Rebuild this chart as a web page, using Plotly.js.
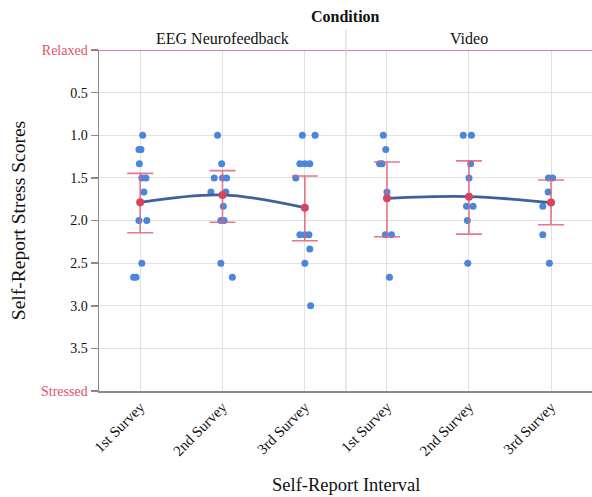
<!DOCTYPE html>
<html>
<head>
<meta charset="utf-8">
<script src="https://cdn.plot.ly/plotly-3.0.1.min.js"></script>
<style>html,body{margin:0;padding:0;background:#fff;}#chart{width:592px;height:497px;}</style>
</head>
<body>
<div id="chart"></div>
<script>
// ---- data ----
const conditions = ["EEG Neurofeedback", "Video"];
const intervals = ["1st Survey", "2nd Survey", "3rd Survey"];
const yTickVals = [0, 0.5, 1, 1.5, 2, 2.5, 3, 3.5, 4];
const yTickLabels = ["Relaxed", "0.5", "1.0", "1.5", "2.0", "2.5", "3.0", "3.5", "Stressed"];

// individual self-report scores (one array per interval)
const eegScores = [
  [1.0, 1.167, 1.167, 1.333, 1.5, 1.5, 1.667, 2.0, 2.0, 2.5, 2.667, 2.667],
  [1.0, 1.333, 1.5, 1.5, 1.5, 1.667, 1.667, 1.833, 2.0, 2.0, 2.5, 2.667],
  [1.0, 1.0, 1.333, 1.333, 1.333, 1.5, 2.167, 2.167, 2.167, 2.333, 2.5, 3.0]
];
// horizontal jitter of each dot (category units)
const eegJitter = [
  [0.03, -0.015, 0.01, -0.01, 0.02, 0.07, 0.045, -0.015, 0.08, 0.02, -0.08, -0.05],
  [-0.06, -0.01, -0.1, 0.0, 0.05, -0.14, 0.04, 0.01, -0.02, 0.02, -0.02, 0.12],
  [-0.03, 0.125, -0.06, 0.0, 0.06, -0.11, -0.06, 0.0, 0.05, 0.06, 0.0, 0.07]
];
const videoScores = [
  [1.0, 1.167, 1.333, 1.333, 1.667, 2.167, 2.167, 2.667],
  [1.0, 1.0, 1.333, 1.5, 1.833, 1.833, 2.0, 2.5],
  [1.5, 1.5, 1.667, 1.833, 2.167, 2.5]
];
const videoJitter = [
  [-0.045, -0.015, -0.09, -0.06, 0.0, -0.02, 0.055, 0.03],
  [-0.07, 0.03, 0.02, 0.0, -0.03, 0.05, -0.02, -0.015],
  [-0.03, 0.02, -0.035, -0.1, -0.1, -0.02]
];

// means and interval bounds
const eegMeans = [1.787, 1.70, 1.85];
const eegLow = [1.447, 1.415, 1.478];
const eegHigh = [2.143, 2.02, 2.237];
const videoMeans = [1.74, 1.72, 1.79];
const videoLow = [1.314, 1.30, 1.525];
const videoHigh = [2.19, 2.16, 2.05];

// ---- styling ----
const FONT = "Liberation Serif, Times New Roman, serif";
const RED = "#e4506b";
const DOT = "rgb(74,134,220)";
const MEAN_RED = "rgb(214,68,96)";
const ERR = "rgba(226,96,118,0.85)";
const LINE = "rgb(62,96,160)";
const GRID = "#e2e2e2";
const AXIS = "#8a8a8a";

function buildTraces(scores, jitter, means, low, high, xa) {
  const xs = [], ys = [];
  scores.forEach((arr, i) => arr.forEach((v, j) => { xs.push(i + jitter[i][j]); ys.push(v); }));
  const idx = intervals.map((_, i) => i);
  return [
    {type: "scatter", mode: "markers", x: xs, y: ys, xaxis: xa, yaxis: "y",
     marker: {color: DOT, size: 7}, hoverinfo: "y", showlegend: false},
    {type: "scatter", mode: "lines", x: idx, y: means, xaxis: xa, yaxis: "y",
     line: {color: LINE, width: 2.8, shape: "spline", smoothing: 1}, hoverinfo: "skip", showlegend: false},
    {type: "scatter", mode: "markers", x: idx, y: means, xaxis: xa, yaxis: "y",
     marker: {color: MEAN_RED, size: 8},
     error_y: {type: "data", symmetric: false,
       array: means.map((m, i) => high[i] - m),
       arrayminus: means.map((m, i) => m - low[i]),
       color: ERR, thickness: 1.6, width: 13},
     showlegend: false}
  ];
}

const traces = [].concat(
  buildTraces(eegScores, eegJitter, eegMeans, eegLow, eegHigh, "x"),
  buildTraces(videoScores, videoJitter, videoMeans, videoLow, videoHigh, "x2")
);

const xCommon = {
  range: [-0.5, 2.5], tickvals: [0, 1, 2], ticktext: intervals, tickangle: -45,
  showgrid: true, gridcolor: GRID, gridwidth: 1, zeroline: false,
  showline: true, linecolor: AXIS, linewidth: 1.5, ticks: "",
  tickfont: {family: FONT, size: 15, color: "#111"}, fixedrange: true
};

const split = 0.501;
const layout = {
  width: 592, height: 497,
  margin: {l: 99, r: 0, t: 50, b: 106},
  paper_bgcolor: "#fff", plot_bgcolor: "#fff",
  font: {family: FONT, color: "#111"},
  showlegend: false,
  xaxis: Object.assign({}, xCommon, {domain: [0, split], anchor: "y"}),
  xaxis2: Object.assign({}, xCommon, {domain: [split, 1], anchor: "y"}),
  yaxis: {
    range: [4, 0], tickvals: yTickVals,
    ticktext: yTickLabels.map((t, i) => (i === 0 || i === yTickLabels.length - 1) ? '<span style="color:' + RED + '">' + t + '</span>' : t),
    showgrid: true, gridcolor: GRID, zeroline: false,
    showline: true, linecolor: AXIS, linewidth: 1.5,
    ticks: "outside", ticklen: 7, tickcolor: AXIS, tickwidth: 1.5,
    tickfont: {family: FONT, size: 14, color: "#111"},
    title: {text: "Self-Report Stress Scores", font: {family: FONT, size: 19.5, color: "#111"}, standoff: 10},
    fixedrange: true
  },
  shapes: [
    {type: "line", xref: "paper", yref: "y", x0: -0.016, x1: 1, y0: 0, y1: 0, line: {color: RED, width: 1.6}},
    {type: "line", xref: "paper", yref: "y", x0: -0.016, x1: 0, y0: 4, y1: 4, line: {color: RED, width: 1.6}},
    {type: "line", xref: "paper", yref: "paper", x0: split, x1: split, y0: 0, y1: 1.059, line: {color: "#d8d8d8", width: 1.2}}
  ],
  annotations: [
    {text: conditions[0], xref: "paper", yref: "paper", x: split / 2, y: 1.035, xanchor: "center", yanchor: "middle", showarrow: false, font: {family: FONT, size: 16, color: "#111"}},
    {text: conditions[1], xref: "paper", yref: "paper", x: (1 + split) / 2, y: 1.035, xanchor: "center", yanchor: "middle", showarrow: false, font: {family: FONT, size: 16, color: "#111"}},
    {text: "<b>Condition</b>", xref: "paper", yref: "paper", x: 0.5, y: 1.097, xanchor: "center", yanchor: "middle", showarrow: false, font: {family: FONT, size: 16, color: "#111"}},
    {text: "Self-Report Interval", xref: "paper", yref: "paper", x: 0.5, y: -0.276, xanchor: "center", yanchor: "middle", showarrow: false, font: {family: FONT, size: 18.5, color: "#111"}}
  ]
};

Plotly.newPlot("chart", traces, layout, {displayModeBar: false, staticPlot: true});
</script>
</body>
</html>
